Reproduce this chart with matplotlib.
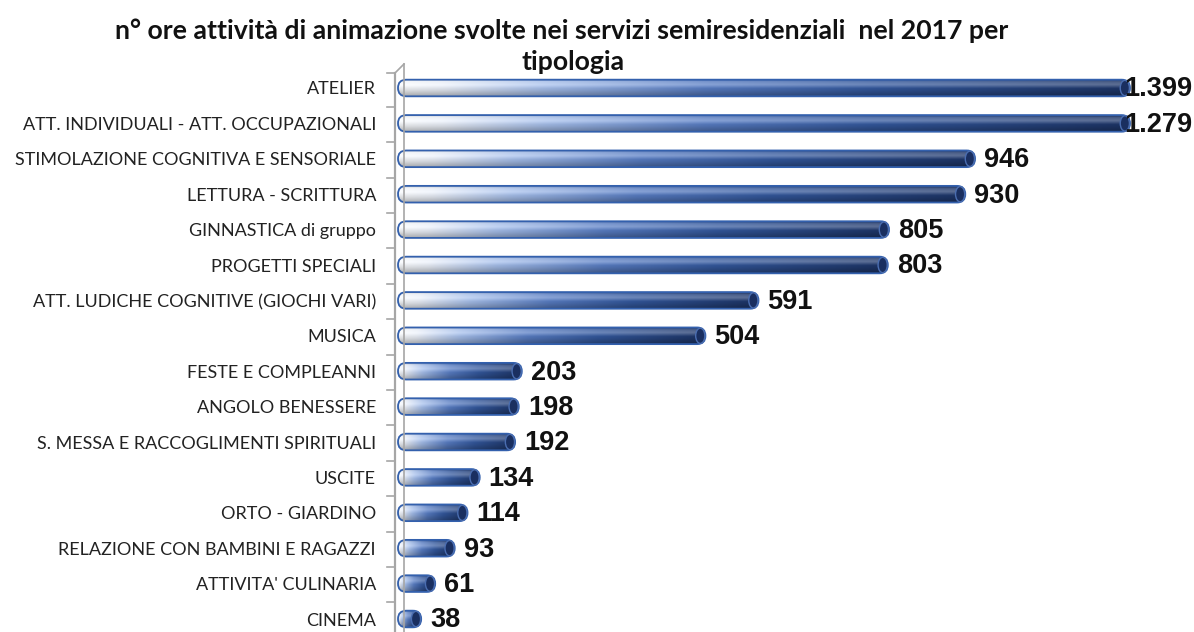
import numpy as np
import matplotlib
matplotlib.use("Agg")
import matplotlib.pyplot as plt
from matplotlib.patches import FancyBboxPatch, Ellipse
from matplotlib.lines import Line2D
from matplotlib.colors import to_rgb

categories = [
    "ATELIER",
    "ATT. INDIVIDUALI - ATT. OCCUPAZIONALI",
    "STIMOLAZIONE COGNITIVA E SENSORIALE",
    "LETTURA - SCRITTURA",
    "GINNASTICA di gruppo",
    "PROGETTI SPECIALI",
    "ATT. LUDICHE COGNITIVE (GIOCHI VARI)",
    "MUSICA",
    "FESTE E COMPLEANNI",
    "ANGOLO BENESSERE",
    "S. MESSA E RACCOGLIMENTI SPIRITUALI",
    "USCITE",
    "ORTO - GIARDINO",
    "RELAZIONE CON BAMBINI E RAGAZZI",
    "ATTIVITA' CULINARIA",
    "CINEMA",
]
values = [1399, 1279, 946, 930, 805, 803, 591, 504, 203, 198, 192, 134, 114, 93, 61, 38]
title_line1 = "n° ore attività di animazione svolte nei servizi semiresidenziali  nel 2017 per"
title_line2 = "tipologia"

W, H = 1194, 632
fig = plt.figure(figsize=(W / 100, H / 100), dpi=100)
fig.patch.set_facecolor("white")

x_max = 1200
ax_left, ax_right = 398, 1130
row_top, row_bot = 88, 619
n = len(categories)
sp = (row_bot - row_top) / (n - 1)
ax_top = row_top - sp / 2
ax_bottom = row_bot + sp / 2
ax = fig.add_axes([ax_left / W, (H - ax_bottom) / H, (ax_right - ax_left) / W, (ax_bottom - ax_top) / H])
ax.set_xlim(0, x_max)
ax.set_ylim(n - 0.5, -0.5)
for s in ax.spines.values():
    s.set_visible(False)
ax.set_xticks([])
ax.set_yticks(range(n))
ax.set_yticklabels(categories, family=["Lato", "DejaVu Sans"], fontsize=13, color="#222222")
ax.tick_params(axis="y", length=0, pad=(ax_left - 376) * 0.72)
ax.patch.set_alpha(0)

px_per_x = (ax_right - ax_left) / x_max
px_per_y = sp
bar_h = 0.47
r_px = bar_h * px_per_y / 2
r_x = r_px / px_per_x

def fx(p):
    return p / W

def fy(p):
    return 1 - p / H

gray = "#a6a6a6"
wall_top = 73
fig.add_artist(Line2D([fx(395), fx(395)], [fy(wall_top), fy(H)], color=gray, lw=1.6))
fig.add_artist(Line2D([fx(395), fx(404)], [fy(wall_top), fy(64)], color=gray, lw=1.2))
fig.add_artist(Line2D([fx(404), fx(404)], [fy(64), fy(H)], color=gray, lw=1.2))
for i in range(n + 1):
    yb = ax_top + i * sp + 1
    if i == 0:
        yb = wall_top
    fig.add_artist(Line2D([fx(387), fx(395)], [fy(yb), fy(yb)], color=gray, lw=1.2))

# gradient image for cylinder bars
hx = np.linspace(0, 1, 300)
stops_t = [0.0, 0.06, 0.2, 0.42, 0.65, 1.0]
stops_c = [to_rgb(c) for c in ["#fbfdff", "#eef3fc", "#a9c2ee", "#5a7fc6", "#34599f", "#1d3568"]]
base = np.stack([np.interp(hx, stops_t, [c[k] for c in stops_c]) for k in range(3)], axis=-1)
vy = np.linspace(0, 1, 40)
shade = np.interp(vy, [0, 0.12, 0.35, 0.65, 1.0], [0.82, 0.97, 1.0, 0.88, 0.68])
high = np.interp(vy, [0, 0.15, 0.32, 0.55, 1.0], [0.0, 0.2, 0.28, 0.0, 0.0])
img = base[None, :, :] * shade[:, None, None]
img = img * (1 - high[:, None, None]) + high[:, None, None]
img = np.clip(img, 0, 1)

for i, v in enumerate(values):
    shown = min(v, x_max)
    y0 = i - bar_h / 2
    patch = FancyBboxPatch((0, y0), shown, bar_h,
                           boxstyle=f"round,pad=0,rounding_size={r_x}",
                           mutation_aspect=(bar_h / 2) / r_x,
                           facecolor="none", edgecolor="#3360ad", lw=1.3, zorder=3, clip_on=False)
    ax.add_patch(patch)
    im = ax.imshow(img, extent=(0, shown, i + bar_h / 2, i - bar_h / 2), aspect="auto",
                   interpolation="bilinear", zorder=2)
    im.set_clip_path(patch)
    cap_w = 2 * (r_px * 0.55) / px_per_x
    cap = Ellipse((shown - cap_w / 2 - 0.6 / px_per_x, i), cap_w, bar_h * 0.92,
                  facecolor="#1a2f60", edgecolor="#4a6db0", lw=1.0, zorder=4, clip_on=False)
    ax.add_patch(cap)
    label = f"{v:,}".replace(",", ".")
    off = -6 if v > x_max else 9
    ax.annotate(label, xy=(shown, i), xytext=(off * 0.72, -1), textcoords="offset points",
                ha="left", va="center", fontsize=19.5, fontweight="bold",
                family="Liberation Sans", color="#111111", zorder=5, annotation_clip=False)
ax.set_xlim(0, x_max)
ax.set_ylim(n - 0.5, -0.5)

fig.text(fx(562), fy(31), title_line1, ha="center", va="center", fontsize=19.2,
         fontweight="bold", family="Lato", color="#111111")
fig.text(fx(573), fy(62), title_line2, ha="center", va="center", fontsize=19.2,
         fontweight="bold", family="Lato", color="#111111")

fig.savefig("out.png", dpi=100, facecolor="white")
